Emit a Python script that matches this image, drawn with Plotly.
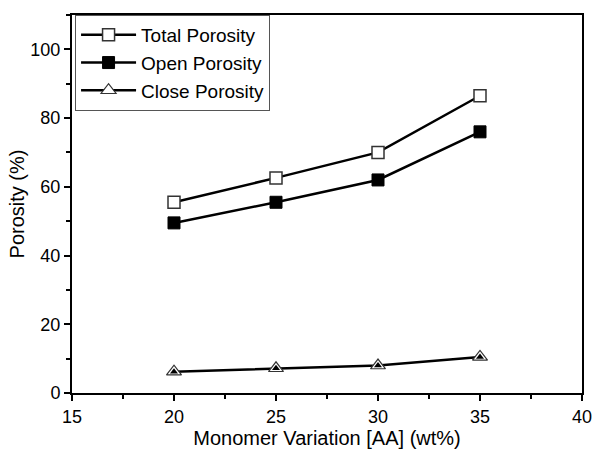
import plotly.graph_objects as go

monomer = [20, 25, 30, 35]
total_porosity = [55.5, 62.6, 70.0, 86.5]
open_porosity = [49.5, 55.5, 62.0, 76.0]
close_porosity = [6.2, 7.2, 8.0, 10.5]

FONT = "Liberation Sans, Arial"

fig = go.Figure()
fig.add_trace(go.Scatter(x=monomer, y=total_porosity, mode="lines+markers", name="Total Porosity",
                         line=dict(color="black", width=2.5),
                         marker=dict(symbol="square", size=12, color="white", line=dict(color="#333", width=1.5))))
fig.add_trace(go.Scatter(x=monomer, y=open_porosity, mode="lines+markers", name="Open Porosity",
                         line=dict(color="black", width=2.5),
                         marker=dict(symbol="square", size=12, color="black", line=dict(color="black", width=1))))
fig.add_trace(go.Scatter(x=monomer, y=close_porosity, mode="lines+markers", name="Close Porosity",
                         line=dict(color="black", width=2.5),
                         marker=dict(symbol="triangle-up", size=13, color="white", line=dict(color="#333", width=1.2))))
fig.add_trace(go.Scatter(x=monomer, y=close_porosity, mode="markers", showlegend=False,
                         marker=dict(symbol="triangle-up", size=7, color="black", line=dict(width=0))))

axis_common = dict(showline=True, linecolor="black", linewidth=2, mirror=True, ticks="outside",
                   ticklen=6, tickwidth=2, tickcolor="black", showgrid=False, zeroline=False,
                   automargin=False, ticklabeloverflow="allow",
                   tickfont=dict(family=FONT, size=18, color="black"))
fig.update_xaxes(range=[15, 40], dtick=5, tick0=15,
                 minor=dict(dtick=2.5, ticks="outside", ticklen=4, tickwidth=2, tickcolor="black"),
                 title=dict(text="Monomer Variation [AA] (wt%)", font=dict(family=FONT, size=20, color="black"), standoff=4),
                 **axis_common)
fig.update_yaxes(range=[0, 110], dtick=20, tick0=0,
                 minor=dict(dtick=10, ticks="outside", ticklen=4, tickwidth=2, tickcolor="black"),
                 title=dict(text="Porosity (%)", font=dict(family=FONT, size=20, color="black"), standoff=0),
                 **axis_common)
fig.update_layout(width=593, height=450, margin=dict(l=72, r=11, t=15, b=57),
                  plot_bgcolor="white", paper_bgcolor="white",
                  legend=dict(x=0.006, y=1.0, xanchor="left", yanchor="top", bgcolor="white",
                              bordercolor="#555", borderwidth=1, tracegroupgap=0, itemwidth=55,
                              font=dict(family=FONT, size=19, color="black")))
fig.write_html("out.html")
